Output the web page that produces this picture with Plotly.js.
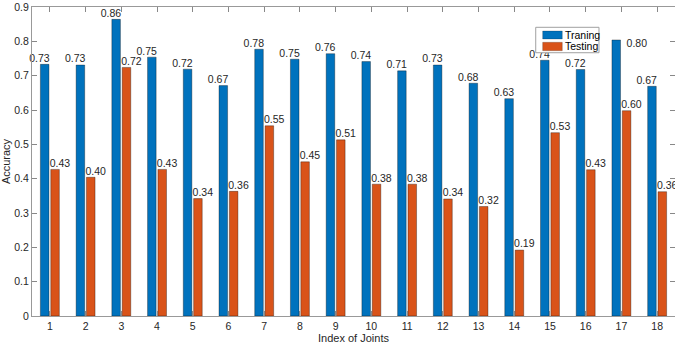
<!DOCTYPE html>
<html>
<head>
<meta charset="utf-8">
<script src="https://cdn.plot.ly/plotly-3.0.1.min.js"></script>
<style>html,body{margin:0;padding:0;background:#fff;}#chart{width:675px;height:346px;}</style>
</head>
<body>
<div id="chart"></div>
<script>
var joints = [1,2,3,4,5,6,7,8,9,10,11,12,13,14,15,16,17,18];
var training = [0.733,0.731,0.864,0.754,0.719,0.671,0.777,0.748,0.764,0.741,0.714,0.731,0.678,0.633,0.745,0.718,0.804,0.669];
var testing = [0.427,0.404,0.724,0.427,0.342,0.363,0.554,0.449,0.513,0.384,0.384,0.341,0.319,0.192,0.534,0.426,0.598,0.362];
var seriesNames = ['Traning','Testing'];
var seriesColors = ['#0072BD','#D95319'];

var BW = 0.24, GAP = 0.025;
var fontFam = 'Liberation Sans, Arial, sans-serif';
var txtCol = '#262626';

var trTextX = [], trTextY = [], trPos = [];
joints.forEach(function(j, k){
  if (j === 17) { trTextX.push(j - GAP + 0.17); trTextY.push(training[k] - 0.012); trPos.push('middle right'); }
  else { trTextX.push(j - GAP + 0.02); trTextY.push(training[k]); trPos.push('top left'); }
});
var teTextX = joints.map(function(j){ return j + GAP - 0.03; });

var data = [
  {type:'bar', name:seriesNames[0], x:joints, y:training, width:BW, offset:-(BW+GAP),
   marker:{color:seriesColors[0], line:{color:'rgba(0,0,0,0.55)', width:0.6}}, hoverinfo:'none', showlegend:false},
  {type:'bar', name:seriesNames[1], x:joints, y:testing, width:BW, offset:GAP,
   marker:{color:seriesColors[1], line:{color:'rgba(0,0,0,0.55)', width:0.6}}, hoverinfo:'none', showlegend:false},
  {type:'scatter', mode:'text', x:trTextX, y:trTextY, text:training.map(function(v){return v.toFixed(2);}),
   textposition:trPos, textfont:{family:fontFam, size:10.5, color:txtCol}, showlegend:false, hoverinfo:'none', cliponaxis:false},
  {type:'scatter', mode:'text', x:teTextX, y:testing, text:testing.map(function(v){return v.toFixed(2);}),
   textposition:'top right', textfont:{family:fontFam, size:10.5, color:txtCol}, showlegend:false, hoverinfo:'none', cliponaxis:false}
];

// custom compact legend (MATLAB style)
var lg = {x0:0.7834, x1:0.8818, y0:0.8520, y1:0.9343,
          sx0:0.7942, sx1:0.8247, tx:0.8262,
          rows:[{y0:0.8964, y1:0.9223, ty:0.9094},{y0:0.8586, y1:0.8858, ty:0.8722}]};
var shapes = [{type:'rect', xref:'paper', yref:'paper', x0:lg.x0, x1:lg.x1, y0:lg.y0, y1:lg.y1,
               fillcolor:'#fff', line:{color:'#a0a0a0', width:1}, layer:'above'}];
var annotations = [];
seriesNames.forEach(function(n, i){
  var r = lg.rows[i];
  shapes.push({type:'rect', xref:'paper', yref:'paper', x0:lg.sx0, x1:lg.sx1, y0:r.y0, y1:r.y1,
               fillcolor:seriesColors[i], line:{color:'rgba(0,0,0,0.4)', width:0.5}, layer:'above'});
  annotations.push({xref:'paper', yref:'paper', x:lg.tx, y:r.ty, xanchor:'left', yanchor:'middle', showarrow:false,
               text:n, font:{family:fontFam, size:10.5, color:'#000'}});
});

var layout = {
  width:675, height:346,
  margin:{l:32, r:0, t:7, b:30},
  paper_bgcolor:'#fff', plot_bgcolor:'#fff',
  font:{family:fontFam, size:10, color:txtCol},
  barmode:'group',
  showlegend:false,
  shapes:shapes,
  annotations:annotations,
  xaxis:{range:[0.5,18.5], tickvals:joints, ticktext:joints.map(String), ticks:'inside', ticklen:5, tickcolor:'#888',
         showline:true, linecolor:'#999', linewidth:1, mirror:'ticks', showgrid:false, zeroline:false,
         tickfont:{size:10.5, color:txtCol}, title:{text:'Index of Joints', font:{size:11, color:txtCol}, standoff:3}},
  yaxis:{range:[0,0.9], dtick:0.1, tick0:0, ticks:'inside', ticklen:5, tickcolor:'#888',
         showline:true, linecolor:'#999', linewidth:1, mirror:'ticks', showgrid:false, zeroline:false,
         tickfont:{size:10.5, color:txtCol}, title:{text:'Accuracy', font:{size:11, color:txtCol}, standoff:4}}
};

Plotly.newPlot('chart', data, layout, {displayModeBar:false, staticPlot:true});
</script>
</body>
</html>
